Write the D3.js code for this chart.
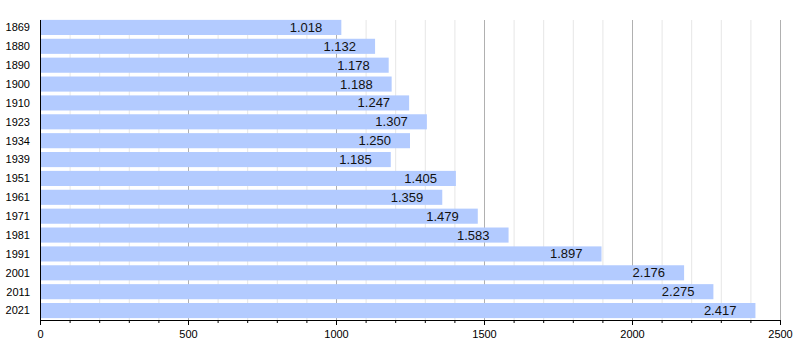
<!DOCTYPE html>
<html><head><meta charset="utf-8">
<script src="https://cdn.jsdelivr.net/npm/d3@7"></script>
<style>body{margin:0;background:#fff}svg{display:block;font-family:"Liberation Sans",Arial,sans-serif}</style>
</head><body><svg id="c" width="800" height="360"></svg>
<script>
const years = ["1869","1880","1890","1900","1910","1923","1934","1939","1951","1961","1971","1981","1991","2001","2011","2021"];
const population = [1018,1132,1178,1188,1247,1307,1250,1185,1405,1359,1479,1583,1897,2176,2275,2417];
const xTicks = [0,500,1000,1500,2000,2500];

(function(){
const svg = d3.select("#c");
const pl = 40, pr = 780, pt = 18, pb = 320;
const x = d3.scaleLinear().domain([0,2500]).range([pl,pr]);
const y = d3.scaleBand().domain(years).range([pt,pb]).paddingInner(0.2).paddingOuter(0.1);
const minor = d3.range(100,2500,100).filter(v=>v%500!==0);

svg.append("g").selectAll("line").data(minor).join("line")
  .attr("x1",d=>x(d)+0.5).attr("x2",d=>x(d)+0.5).attr("y1",20).attr("y2",pb)
  .attr("stroke","#e6e6e6").attr("stroke-width",1);
svg.append("g").selectAll("line").data(xTicks.filter(v=>v>0)).join("line")
  .attr("x1",d=>x(d)+0.5).attr("x2",d=>x(d)+0.5).attr("y1",20).attr("y2",pb)
  .attr("stroke","#b0b0b0").attr("stroke-width",1);

svg.append("g").selectAll("rect").data(years).join("rect")
  .attr("x",pl).attr("y",d=>y(d)).attr("width",(d,i)=>x(population[i])-pl).attr("height",y.bandwidth())
  .attr("fill","#b3cbff");

const fmt = v => d3.format(",")(v).replace(/,/g,".");
svg.append("g").selectAll("text").data(years).join("text")
  .attr("x",(d,i)=>x(population[i])-19).attr("y",d=>y(d)+y.bandwidth()/2).attr("dy","0.35em")
  .attr("text-anchor","end").attr("font-size",13).attr("fill","#111")
  .text((d,i)=>fmt(population[i]));

svg.append("g").selectAll("text").data(years).join("text")
  .attr("x",30).attr("y",d=>y(d)+y.bandwidth()/2).attr("dy","0.35em")
  .attr("text-anchor","end").attr("font-size",11).attr("fill","#000").text(d=>d);

svg.append("line").attr("x1",pl+0.5).attr("x2",pl+0.5).attr("y1",20).attr("y2",pb+5).attr("stroke","#000");
const xAxis = svg.append("g").attr("transform",`translate(0,${pb})`)
  .call(d3.axisBottom(x).tickValues(xTicks).tickSize(5).tickSizeOuter(0).tickFormat(d3.format("d")));
xAxis.select(".domain").attr("stroke","#000");
xAxis.selectAll("text").attr("font-size",11).attr("font-family","Liberation Sans, Arial, sans-serif").attr("fill","#000").attr("dy","0.9em");
svg.append("g").attr("transform",`translate(0,${pb})`).selectAll("line")
  .data(minor).join("line")
  .attr("x1",d=>x(d)+0.5).attr("x2",d=>x(d)+0.5).attr("y1",0).attr("y2",3).attr("stroke","#000");
})();
</script></body></html>
